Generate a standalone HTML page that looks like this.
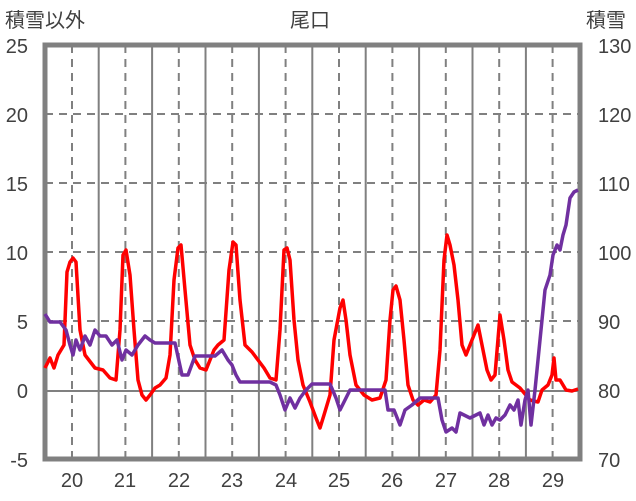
<!DOCTYPE html><html><head><meta charset="utf-8"><style>body{margin:0;background:#fff}svg{display:block}text{font-family:"Liberation Sans","Noto Sans CJK JP",sans-serif;fill:#404040;font-size:20px}</style></head><body>
<svg width="636" height="501" viewBox="0 0 636 501">
<text x="5" y="27">積雪以外</text><text x="310" y="27" text-anchor="middle">尾口</text><text x="586" y="27">積雪</text>
<g stroke="#808080" stroke-width="2" stroke-dasharray="8,6" fill="none">
<path d="M45 114H580M45 183H580M45 252H580M45 321H580"/>
<path d="M72 45V459M125.4 45V459M178.8 45V459M232.2 45V459M285.6 45V459M339 45V459M392.4 45V459M445.8 45V459M499.2 45V459M552.6 45V459"/>
</g>
<g stroke="#808080" stroke-width="2" fill="none">
<path d="M45 391H580"/>
<path d="M98.7 45V459M152.1 45V459M205.5 45V459M258.9 45V459M312.3 45V459M365.7 45V459M419.1 45V459M472.5 45V459M525.9 45V459"/>
</g>
<rect x="45" y="45" width="535" height="414" fill="none" stroke="#808080" stroke-width="5"/>
<g text-anchor="end"><text x="28" y="53">25</text><text x="28" y="122">20</text><text x="28" y="191">15</text><text x="28" y="260">10</text><text x="28" y="329">5</text><text x="28" y="398">0</text><text x="28" y="467">-5</text></g>
<g><text x="598" y="53">130</text><text x="598" y="122">120</text><text x="598" y="191">110</text><text x="598" y="260">100</text><text x="598" y="329">90</text><text x="598" y="398">80</text><text x="598" y="467">70</text></g>
<g text-anchor="middle"><text x="72" y="487">20</text><text x="125" y="487">21</text><text x="179" y="487">22</text><text x="232" y="487">23</text><text x="286" y="487">24</text><text x="339" y="487">25</text><text x="392" y="487">26</text><text x="446" y="487">27</text><text x="499" y="487">28</text><text x="553" y="487">29</text></g>
<polyline fill="none" stroke="#ff0000" stroke-width="3.5" stroke-linejoin="round" points="45,368 50,358 54,368 58,355 64,345 67,272 70,262 73,258 76,262 80,330 85,355 95,368 103,370 110,378 116,380 120,330 123,255 126,250 130,275 134,330 138,380 142,395 146,400 150,395 155,388 160,385 166,378 170,355 174,280 178,248 181,245 185,290 190,345 195,360 200,368 206,370 210,360 214,350 218,345 224,340 229,270 233,242 236,245 240,300 245,345 252,352 258,360 264,368 270,378 276,380 280,330 284,250 287,248 290,260 294,320 298,360 303,385 310,402 316,418 320,428 324,415 330,395 334,340 340,308 343,300 346,320 350,355 356,385 364,395 372,400 380,398 386,380 390,320 393,290 396,286 400,300 404,340 408,385 413,400 418,405 424,400 430,402 436,395 440,350 444,260 447,235 450,245 454,265 458,300 462,345 466,355 472,340 478,325 483,350 487,370 491,380 495,375 500,315 504,340 508,370 512,382 516,385 520,388 530,400 538,402 542,390 548,385 552,375 554,358 556,380 560,380 566,390 572,391 578,389"/>
<polyline fill="none" stroke="#7030a0" stroke-width="3.5" stroke-linejoin="round" points="45,314 50,322 60,322 66,330 70,345 73,355 76,340 80,350 85,336 90,345 95,330 100,336 106,336 112,345 117,340 122,360 126,350 132,355 138,345 145,336 150,340 155,343 175,343 182,375 188,375 195,356 215,356 222,350 228,360 232,365 236,375 240,382 270,382 276,385 280,395 285,410 290,398 295,408 300,398 306,390 312,384 330,384 336,398 340,410 345,400 350,390 385,390 388,410 394,410 400,425 405,410 412,405 420,398 438,398 442,420 446,432 452,428 456,432 460,413 470,418 480,413 484,425 488,415 492,425 496,418 500,420 505,415 510,405 514,410 518,400 521,425 525,400 528,390 531,425 535,390 538,360 542,320 545,290 550,275 553,255 557,245 560,250 563,235 566,225 570,198 574,192 578,190"/>
</svg></body></html>
